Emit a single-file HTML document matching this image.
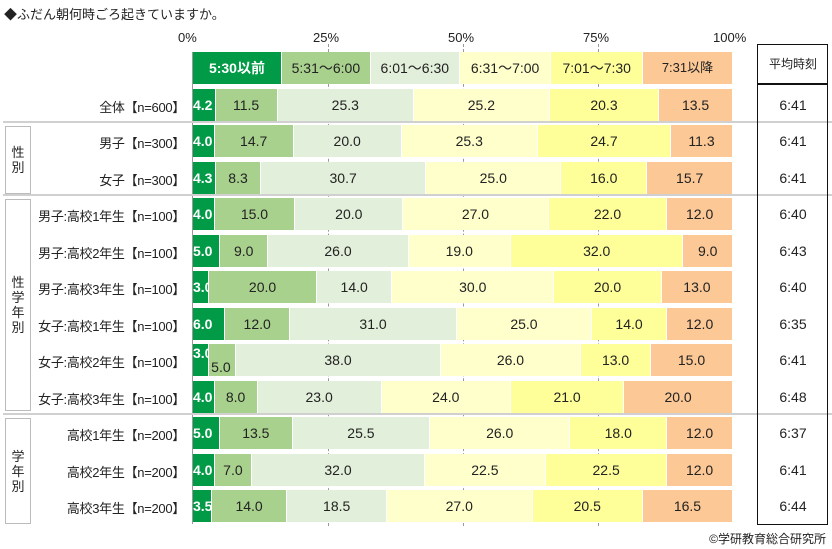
<!DOCTYPE html>
<html><head><meta charset="utf-8"><style>
body{margin:0;width:832px;height:549px;background:#fff;position:relative;overflow:hidden;font-family:"Liberation Sans","Noto Sans CJK JP",sans-serif;color:#222}
.a{position:absolute}
.bar{position:absolute;left:193px;width:539px;height:32px;display:flex}
.bar div{height:32px;line-height:32px;text-align:center;font-size:14px;border-right:1px solid #fff;box-sizing:border-box;white-space:nowrap;overflow:visible}
.c0{background:#019a46;color:#fff;font-weight:bold}
.c1{background:#a9d18e}.c2{background:#e2efda}.c3{background:#ffffcc}.c4{background:#ffff99}.c5{background:#fcc896}
.lab{position:absolute;right:647px;font-size:13px;letter-spacing:-0.3px;text-align:right;white-space:nowrap}
.tm{position:absolute;left:757px;width:72px;text-align:center;font-size:14px}
.hl{position:absolute;left:3px;width:829px;height:2px;background:#d0d0d0}
.grid{position:absolute;top:44px;height:482px;width:0;border-left:1px dashed #999}
.gb{position:absolute;left:5px;width:24px;border:1px solid #bbb;font-size:13px;display:flex;align-items:center;justify-content:center;text-align:center;line-height:15px}
</style></head><body>
<div class="a" style="left:4px;top:4px;font-size:13px">◆ふだん朝何時ごろ起きていますか。</div>
<div class="a" style="left:178px;top:30px;font-size:13px">0%</div>
<div class="a" style="left:313px;top:30px;font-size:13px">25%</div>
<div class="a" style="left:448px;top:30px;font-size:13px">50%</div>
<div class="a" style="left:583px;top:30px;font-size:13px">75%</div>
<div class="a" style="left:713px;top:30px;font-size:13px">100%</div>
<div class="grid" style="left:328px"></div>
<div class="grid" style="left:463px"></div>
<div class="grid" style="left:598px"></div>
<div class="a" style="left:192px;top:52px;width:1px;height:472px;background:#999"></div>
<div class="hl" style="top:121px"></div>
<div class="hl" style="top:194px"></div>
<div class="hl" style="top:413px"></div>
<div class="a" style="left:757px;top:44px;width:71px;height:481px;border:1.5px solid #111;box-sizing:border-box"></div>
<div class="a" style="left:757px;top:83px;width:71px;height:1.5px;background:#111"></div>
<div class="tm" style="top:55px;font-size:12px">平均時刻</div>
<div class="gb" style="top:126px;height:66px">性<br>別</div>
<div class="gb" style="top:199px;height:210px">性<br>学<br>年<br>別</div>
<div class="gb" style="top:418px;height:104px">学<br>年<br>別</div>
<div class="bar" style="top:52px"><div class="c0" style="width:16.5%">5:30以前</div><div class="c1" style="width:16.5%">5:31～6:00</div><div class="c2" style="width:16.5%">6:01～6:30</div><div class="c3" style="width:17%">6:31～7:00</div><div class="c4" style="width:17%">7:01～7:30</div><div class="c5" style="width:16.5%;border:none;font-size:13px">7:31以降</div></div>
<div id="rows"></div>
<div class="a" style="right:6px;top:530px;font-size:12px">©学研教育総合研究所</div>
<script>
var d=[["全体【n=600】",[4.2,11.5,25.3,25.2,20.3,13.5],"6:41"],
["男子【n=300】",[4.0,14.7,20.0,25.3,24.7,11.3],"6:41"],
["女子【n=300】",[4.3,8.3,30.7,25.0,16.0,15.7],"6:41"],
["男子:高校1年生【n=100】",[4.0,15.0,20.0,27.0,22.0,12.0],"6:40"],
["男子:高校2年生【n=100】",[5.0,9.0,26.0,19.0,32.0,9.0],"6:43"],
["男子:高校3年生【n=100】",[3.0,20.0,14.0,30.0,20.0,13.0],"6:40"],
["女子:高校1年生【n=100】",[6.0,12.0,31.0,25.0,14.0,12.0],"6:35"],
["女子:高校2年生【n=100】",[3.0,5.0,38.0,26.0,13.0,15.0],"6:41"],
["女子:高校3年生【n=100】",[4.0,8.0,23.0,24.0,21.0,20.0],"6:48"],
["高校1年生【n=200】",[5.0,13.5,25.5,26.0,18.0,12.0],"6:37"],
["高校2年生【n=200】",[4.0,7.0,32.0,22.5,22.5,12.0],"6:41"],
["高校3年生【n=200】",[3.5,14.0,18.5,27.0,20.5,16.5],"6:44"]];
var h="";
d.forEach(function(r,i){var t=88.5+36.5*i;var s=r[1].reduce(function(a,b){return a+b},0);
h+='<div class="lab" style="top:'+(t+8)+'px">'+r[0]+'</div>';
h+='<div class="tm" style="top:'+(t+8)+'px">'+r[2]+'</div>';
h+='<div class="bar" style="top:'+t+'px">';
r[1].forEach(function(v,j){var txt=v.toFixed(1);var st='';
if(i==7&&j==0){st='line-height:18px;text-align:left';}
if(i==7&&j==1){st='line-height:46px;text-align:left;padding-left:2px';}
if(j==0&&i!=7)st='text-align:left;padding-left:0';
h+='<div class="c'+j+'" style="width:'+(v/s*100)+'%;'+(j==5?'border:none;':'')+st+'">'+txt+'</div>';});
h+='</div>';});
document.getElementById("rows").innerHTML=h;
</script>
</body></html>
